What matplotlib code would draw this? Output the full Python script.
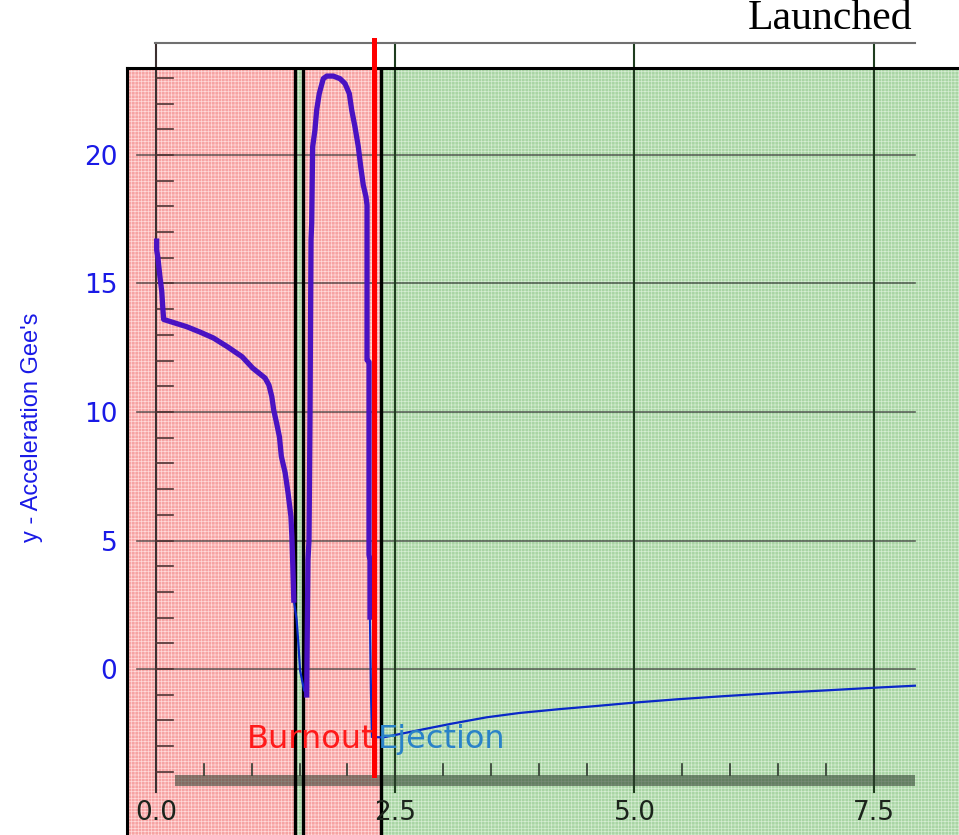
import numpy as np
import matplotlib.pyplot as plt
from matplotlib.patches import Rectangle
from matplotlib.transforms import Bbox, TransformedBbox

# Flight time (s) and vertical acceleration (g)
t_s = [0.007, 0.007, 0.02, 0.04, 0.06, 0.07, 0.08, 0.20, 0.32, 0.46, 0.60,
       0.75, 0.90, 1.01, 1.14, 1.18, 1.21, 1.23, 1.26, 1.29, 1.31, 1.35, 1.38,
       1.41, 1.42, 1.43, 1.44, 1.47, 1.49, 1.505, 1.526, 1.547, 1.575, 1.578,
       1.588, 1.599, 1.609, 1.620, 1.627, 1.637, 1.661, 1.679, 1.706, 1.748,
       1.784, 1.853, 1.923, 1.975, 2.02, 2.045, 2.079, 2.114, 2.139, 2.166,
       2.194, 2.205, 2.205, 2.226, 2.226, 2.236, 2.236, 2.246, 2.257, 2.375,
       2.76, 3.10, 3.455, 3.80, 4.22, 4.57, 4.99, 5.44, 5.96, 6.49, 7.01,
       7.50, 7.93]
acc_g = [16.65, 16.3, 16.0, 15.3, 14.7, 14.1, 13.6, 13.46, 13.32, 13.11, 12.88,
         12.53, 12.15, 11.71, 11.32, 11.05, 10.60, 10.08, 9.57, 9.03, 8.27, 7.63,
         6.85, 5.93, 5.15, 3.98, 2.68, 1.91, 0.87, -0.04, -0.43, -0.82, -1.01,
         0.35, 4.24, 5.0, 9.69, 16.69, 17.35, 20.32, 20.97, 21.75, 22.39, 22.97,
         23.07, 23.07, 22.97, 22.78, 22.39, 21.75, 21.10, 20.32, 19.55, 18.83,
         18.38, 18.05, 12.02, 11.95, 4.44, 4.24, 2.02, -0.82, -2.65, -2.66,
         -2.37, -2.12, -1.88, -1.71, -1.56, -1.45, -1.31, -1.18, -1.05, -0.93,
         -0.83, -0.73, -0.65]

# Flight phase boundaries (s)
phase_edges = [1.452, 1.533, 2.351]
phase_colors = ["#F6A3A3", "#A9D5A4", "#F6A3A3", "#A9D5A4"]
burnout_t = 2.283
ejection_t = 2.351

x_ticks = [0.0, 2.5, 5.0, 7.5]
x_tick_labels = ["0.0", "2.5", "5.0", "7.5"]
y_ticks = [0, 5, 10, 15, 20]

t = np.array(t_s)
acc = np.array(acc_g)

plt.rcParams["hatch.linewidth"] = 0.5

fig = plt.figure(figsize=(9.59, 8.35), dpi=100)
ax = fig.add_axes([127 / 959, 0, 832 / 959, 767 / 835])
ax.set_xlim(-0.303, 8.391)
ax.set_ylim(-6.459, 23.385)

top = 24.36      # top of the white strip above the plot
bottom = -4.79   # lower end of axis / grid lines

# phase backgrounds
edges = [ax.get_xlim()[0]] + phase_edges + [ax.get_xlim()[1]]
for i, c in enumerate(phase_colors):
    light = "#FFDADA" if c == "#F6A3A3" else "#D5ECD2"
    ax.axvspan(edges[i], edges[i + 1], facecolor=c, edgecolor=light,
               hatch="+++++", linewidth=0, zorder=0)

# white strip on top
ax.add_patch(Rectangle((-0.01, 23.385), 7.94, top - 23.385, facecolor="white",
                       edgecolor="none", clip_on=False, zorder=0))
ax.plot([-0.01, 7.93], [top, top], color="#707070", lw=1.5, clip_on=False)

# grid
for y in y_ticks:
    ax.plot([-0.2, 7.93], [y, y], color="#2e2e2e", alpha=0.7, lw=1.2, zorder=1)
for x in x_ticks[1:]:
    ax.plot([x, x], [bottom, top], color="#1f3d1f", lw=1.5, clip_on=False, zorder=1)
ax.plot([0, 0], [bottom, top], color="#3c3030", lw=1.5, clip_on=False, zorder=1)

# minor ticks
for y in range(-4, 24):
    ax.plot([0, 0.18], [y, y], color="#503535", lw=1.2, zorder=1)
for x in np.arange(0.5, 7.6, 0.5):
    ax.plot([x, x], [-4.12, -3.70], color="#2f3a2f", lw=1.2, zorder=1)

# time axis band
ax.add_patch(Rectangle((0.2, -4.55), 7.73, 0.43, facecolor="#2a3a2a",
                       alpha=0.55, edgecolor="none", zorder=1))

# phase dividers
for x in phase_edges:
    ax.axvline(x, color="black", lw=2.4, zorder=1.5)

# acceleration trace
thick = (t < 1.45) | ((t > 1.56) & (t < 2.24))
ax.plot(t, acc, color="#0A28C8", lw=1.6, zorder=2)
ax.plot(t, np.where(thick, acc, np.nan), color="#4A12C2", lw=3.8, zorder=2.1)

ax.text(burnout_t, -2.76, "Burnout", color="#FF1A1A", fontsize=23,
        ha="right", va="center", zorder=3)
ax.text(ejection_t - 0.035, -2.76, "Ejection", color="#2A82C8", fontsize=23,
        ha="left", va="center", zorder=3)

# burnout marker
ax.plot([burnout_t, burnout_t], [-4.12, 24.47], color="#FF0000", lw=3.6,
        clip_on=False, zorder=4)

# axes frame
for s in ["right", "bottom"]:
    ax.spines[s].set_visible(False)
for s in ["left", "top"]:
    ax.spines[s].set_color("black")
    ax.spines[s].set_linewidth(2.2)

ax.set_yticks(y_ticks)
ax.set_xticks(x_ticks, x_tick_labels)
ax.tick_params(axis="y", length=0, pad=7, labelsize=19, labelcolor="#1A1AE6")
ax.tick_params(axis="x", length=0, pad=-25, labelsize=19, labelcolor="#1c241c")
ax.set_ylabel("y - Acceleration Gee's", color="#1A1AE6", fontsize=17,
              family=["Liberation Sans", "DejaVu Sans"], va="center")
ax.yaxis.set_label_coords(-0.114, 0.531)

title = fig.text(748 / 959, 1 - 29 / 835, "Launched", ha="left", va="baseline",
                 family=["Liberation Serif", "DejaVu Serif"], fontsize=30)
title.set_clip_box(TransformedBbox(Bbox([[0, 0], [915 / 959, 1]]), fig.transFigure))

fig.savefig("out.png", dpi=100)
